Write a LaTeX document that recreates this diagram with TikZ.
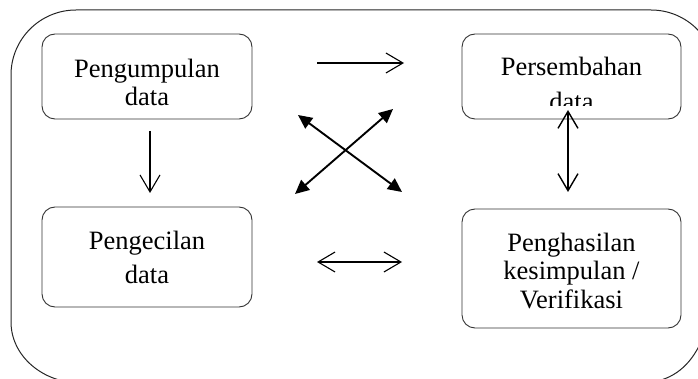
\documentclass[tikz,border=0pt]{standalone}
\usepackage{fontspec}
\setmainfont{Liberation Serif}
\usetikzlibrary{arrows.meta,calc}
\begin{document}
\begin{tikzpicture}[x=1pt,y=-1pt,
  box/.style={draw=black!80, line width=0.9pt, rounded corners=13pt, inner sep=0pt},
  txt/.style={align=center, inner sep=0pt, anchor=north, text=black},
  outerline/.style={draw=black!85, line width=1pt},
  openarrow/.style={line width=1.1pt, arrows={-Straight Barb[length=17pt,width=20pt]}},
  opendouble/.style={line width=1.1pt, arrows={Straight Barb[length=17pt,width=20pt]-Straight Barb[length=17pt,width=20pt]}},
  boldcross/.style={line width=1.9pt, arrows={Triangle[length=14pt,width=13pt]-Triangle[length=14pt,width=13pt]}}
]
\path[use as bounding box] (0,0) rectangle (698,379);
\clip (0,0) rectangle (698,379);

% outer rounded frame
\draw[outerline] (11,322) -- (11,75) arc[start angle=180,end angle=270,radius=65]
  -- (651,10) arc[start angle=270,end angle=360,radius=65]
  -- (716,250) .. controls (716,340) and (690,383) .. (640,383)
  -- (81,383) arc[start angle=90,end angle=180,x radius=70,y radius=61] -- cycle;

% boxes
\node[box, minimum width=210pt, minimum height=85pt] (b1) at (147,76.5) {};
\node[box, minimum width=219pt, minimum height=85pt] (b2) at (571.5,76.5) {};
\node[box, minimum width=210pt, minimum height=100pt] (b3) at (147,257) {};
\node[box, minimum width=219pt, minimum height=119pt] (b4) at (571.5,268.5) {};

% texts
\node[txt, font=\fontsize{26.5}{27.6}\selectfont] (t1) at (147,58.9) {Pengumpulan\\data};
\begin{scope}
  \clip (462,34) rectangle (681,105.5);
  \node[txt, font=\fontsize{26.5}{35}\selectfont] (t2) at (571.5,56.9) {Persembahan\\data};
\end{scope}
\node[txt, font=\fontsize{26.5}{34}\selectfont] (t3) at (147,230.9) {Pengecilan\\data};
\node[txt, font=\fontsize{26.5}{28.5}\selectfont] (t4) at (571.5,232.9) {Penghasilan\\kesimpulan /\\Verifikasi};

% arrow end points
\coordinate (h1s) at (317,63);   \coordinate (h1e) at (404,63);
\coordinate (v1s) at (150,131);  \coordinate (v1e) at (150,193);
\coordinate (h2s) at (317,262);  \coordinate (h2e) at (402,262);
\coordinate (v2s) at (568,110);  \coordinate (v2e) at (568,192);
\coordinate (c1s) at (298,115);  \coordinate (c1e) at (402,192);
\coordinate (c2s) at (295,194);  \coordinate (c2e) at (393,109);

\draw[openarrow] (h1s) -- (h1e);
\draw[openarrow] (v1s) -- (v1e);
\draw[opendouble] (h2s) -- (h2e);
\draw[opendouble, line width=1.4pt] (v2s) -- (v2e);
\draw[boldcross] (c1s) -- (c1e);
\draw[boldcross] (c2s) -- (c2e);
\end{tikzpicture}
\end{document}
